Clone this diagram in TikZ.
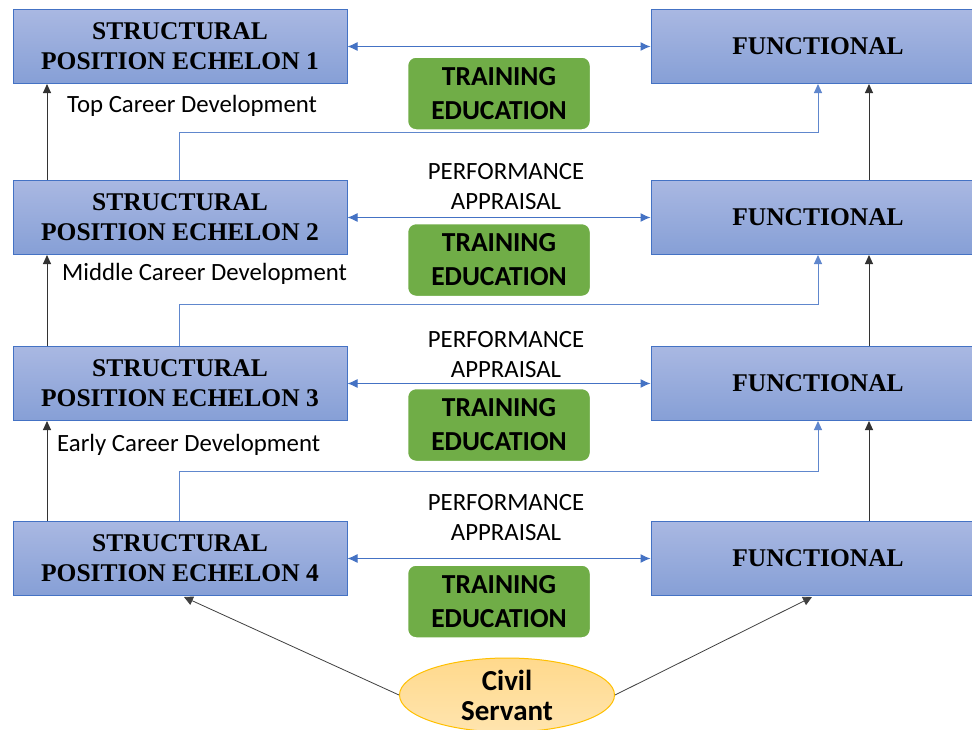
\documentclass[tikz,border=0pt]{standalone}
\usepackage{fontspec}
\setmainfont{Liberation Serif}
\newfontfamily\calfont{Carlito}
\usetikzlibrary{arrows.meta,shapes.geometric,calc}
\definecolor{boxline}{HTML}{4472C4}
\definecolor{boxtop}{HTML}{A9B8E2}
\definecolor{boxbot}{HTML}{869FD6}
\definecolor{trgreen}{HTML}{70AD47}
\definecolor{ovfill}{HTML}{FFD98C}
\definecolor{ovline}{HTML}{FFC000}
\tikzset{
  posbox/.style={draw=boxline, line width=1pt, top color=boxtop, bottom color=boxbot,
    minimum width=334pt, minimum height=74pt, align=center, inner sep=0pt,
    font=\fontsize{25.5}{30}\selectfont\bfseries},
  trainbox/.style={draw=white, line width=2.5pt, fill=trgreen, rounded corners=9pt,
    minimum width=184pt, minimum height=74pt, align=center, inner sep=0pt,
    font=\calfont\fontsize{27.5}{34}\selectfont\bfseries},
  apptext/.style={align=center, inner sep=0pt, font=\calfont\fontsize{24.8}{30}\selectfont},
  devtext/.style={anchor=west, inner sep=0pt, font=\calfont\fontsize{24.8}{28}\selectfont},
  twoway/.style={draw=boxline, line width=1pt, {Latex[length=10pt,width=9pt]}-{Latex[length=10pt,width=9pt]}},
  elbow/.style={draw=boxline!85, line width=1pt, -{Triangle[length=9pt,width=8pt]}},
  promote/.style={draw=black!80, line width=1pt, -{Triangle[length=9pt,width=8pt]}},
  feed/.style={draw=black!75, line width=0.8pt, -{Triangle[length=9pt,width=9pt]}},
}
\begin{document}
\begin{tikzpicture}[x=1pt,y=-1pt]
\clip (0,0) rectangle (972,729);
\fill[white] (0,0) rectangle (972,729);

% structural positions (left column)
\node[posbox] (e1) at (180,46.5) {STRUCTURAL\\POSITION ECHELON 1};
\node[posbox] (e2) at (180,217.5) {STRUCTURAL\\POSITION ECHELON 2};
\node[posbox] (e3) at (180,383.5) {STRUCTURAL\\POSITION ECHELON 3};
\node[posbox] (e4) at (180,558.5) {STRUCTURAL\\POSITION ECHELON 4};

% functional positions (right column)
\node[posbox] (f1) at (818,46.5) {FUNCTIONAL};
\node[posbox] (f2) at (818,217.5) {FUNCTIONAL};
\node[posbox] (f3) at (818,383.5) {FUNCTIONAL};
\node[posbox] (f4) at (818,558.5) {FUNCTIONAL};

% two-way links between the columns
\draw[twoway] (e1.east) -- (f1.west);
\draw[twoway] (e2.east) -- (f2.west);
\draw[twoway] (e3.east) -- (f3.west);
\draw[twoway] (e4.east) -- (f4.west);

% cross-over routes from structural to functional
\coordinate (c1) at (179,132);
\coordinate (c2) at (179,304);
\coordinate (c3) at (179,471);
\draw[elbow] (e2.north -| c1) -- (c1) -- (c1 -| f1.south) -- (f1.south);
\draw[elbow] (e3.north -| c2) -- (c2) -- (c2 -| f2.south) -- (f2.south);
\draw[elbow] (e4.north -| c3) -- (c3) -- (c3 -| f3.south) -- (f3.south);

% promotion arrows
\coordinate (lx) at (47,0);
\coordinate (rx) at (869,0);
\draw[promote] (e2.north -| lx) -- (e1.south -| lx);
\draw[promote] (e3.north -| lx) -- (e2.south -| lx);
\draw[promote] (e4.north -| lx) -- (e3.south -| lx);
\draw[promote] (f2.north -| rx) -- (f1.south -| rx);
\draw[promote] (f3.north -| rx) -- (f2.south -| rx);
\draw[promote] (f4.north -| rx) -- (f3.south -| rx);

% training and education
\node[trainbox] (t1) at (499,93.5) {TRAINING\\EDUCATION};
\node[trainbox] (t2) at (499,260) {TRAINING\\EDUCATION};
\node[trainbox] (t3) at (499,425) {TRAINING\\EDUCATION};
\node[trainbox] (t4) at (499,601.5) {TRAINING\\EDUCATION};

% performance appraisal
\node[apptext] (p2) at (506,187) {PERFORMANCE\\APPRAISAL};
\node[apptext] (p3) at (506,355) {PERFORMANCE\\APPRAISAL};
\node[apptext] (p4) at (506,518) {PERFORMANCE\\APPRAISAL};

% career development stages
\node[devtext] (d1) at (67,106) {Top Career Development};
\node[devtext] (d2) at (62,274) {Middle Career Development};
\node[devtext] (d3) at (57,445) {Early Career Development};

% entry point
\node[ellipse, draw=ovline, line width=1pt, top color=ovfill, bottom color=ovfill!70,
  minimum width=215pt, minimum height=74pt, inner sep=0pt, align=center,
  font=\calfont\fontsize{29}{30}\selectfont\bfseries] (cs) at (507,695) {Civil\\Servant};
\coordinate (e4in) at (184,597);
\coordinate (f4in) at (812,597);
\draw[feed] (cs.west) -- (e4in);
\draw[feed] (cs.east) -- (f4in);
\end{tikzpicture}
\end{document}
